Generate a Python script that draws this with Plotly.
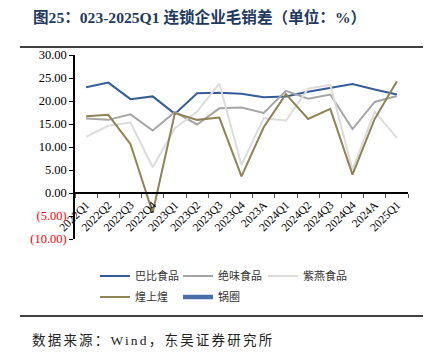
import plotly.graph_objects as go

categories = ["2022Q1", "2022Q2", "2022Q3", "2022Q4", "2023Q1", "2023Q2", "2023Q3", "2023Q4",
              "2023A", "2024Q1", "2024Q2", "2024Q3", "2024Q4", "2024A", "2025Q1"]
babi = [23.0, 24.0, 20.4, 21.0, 17.2, 21.7, 21.8, 21.6, 20.8, 21.0, 22.0, 22.9, 23.7, 22.5, 21.4]
juewei = [16.2, 15.9, 17.1, 13.6, 17.6, 14.9, 18.4, 18.6, 17.4, 22.2, 20.5, 21.4, 13.9, 19.8, 21.1]
ziyan = [12.2, 14.6, 15.3, 5.6, 14.1, 17.7, 23.8, 6.1, 16.3, 15.7, 22.7, 23.5, 5.1, 17.7, 12.0]
huangshanghuang = [16.7, 17.0, 10.6, -4.3, 17.4, 15.9, 16.4, 3.6, 14.3, 21.5, 16.1, 18.3, 4.0, 16.1, 24.3]
guoquan = [None] * 15
ytick_vals = [-10, -5, 0, 5, 10, 15, 20, 25, 30]
ytick_text = ['<span style="color:#ff0000">(10.00)</span>', '<span style="color:#ff0000">(5.00)</span>',
              "0.00", "5.00", "10.00", "15.00", "20.00", "25.00", "30.00"]

W, H = 438, 352
L, R, T, B = 75, 30, 55, 113
PW, PH = W - L - R, H - T - B


def px(x):
    return (x - L) / PW


def py(y):
    return (H - B - y) / PH


serif = "Liberation Serif, Noto Sans CJK SC"
cjk = "Noto Sans CJK SC"

fig = go.Figure()
# name, values, color, width, legend id, legend px position (x, y)
series = [
    ("巴比食品", babi, "#345d98", 2, "legend", (95, 276)),
    ("绝味食品", juewei, "#a6a6a6", 2, "legend2", (178, 276)),
    ("紫燕食品", ziyan, "#dcdcdc", 2, "legend3", (263, 276)),
    ("煌上煌", huangshanghuang, "#8f8453", 2, "legend4", (95, 297)),
    ("锅圈", guoquan, "#4a6fa8", 4.5, "legend5", (178, 297)),
]
legends = {}
for name, vals, color, w, lg, pos in series:
    fig.add_trace(go.Scatter(x=categories, y=vals, name=name, mode="lines",
                             line=dict(color=color, width=w), legend=lg, showlegend=True))
    legends[lg] = dict(orientation="h", x=px(pos[0]), y=py(pos[1]), xanchor="left", yanchor="middle",
                       font=dict(family=cjk, size=11, color="#333"),
                       bgcolor="rgba(0,0,0,0)", itemclick=False, itemdoubleclick=False)

ymin, ymax = -10, 30
zero_pos = (0 - ymin) / (ymax - ymin)

fig.update_layout(
    width=W, height=H,
    margin=dict(l=L, r=R, t=T, b=B),
    paper_bgcolor="white", plot_bgcolor="white",
    font=dict(family=serif, size=12, color="#000"),
    xaxis=dict(type="category", anchor="free", position=zero_pos, showline=True,
               linecolor="#000", linewidth=1.5, ticks="outside", ticklen=4, tickcolor="#555",
               tickangle=-45, tickfont=dict(family=serif, size=11.5), showgrid=False,
               zeroline=False, tickson="boundaries", range=[-0.5, 14.5]),
    yaxis=dict(range=[ymin, ymax], tickvals=ytick_vals, ticktext=ytick_text, showline=True,
               linecolor="#000", linewidth=1.5, ticks="outside", ticklen=4, tickcolor="#000",
               showgrid=False, zeroline=False, tickfont=dict(family=serif, size=12.5)),
    showlegend=True,
    **legends,
)

fig.add_annotation(text="<b>图25：023-2025Q1 连锁企业毛销差（单位：%）</b>", xref="paper", yref="paper",
                   x=px(31), y=py(17), xanchor="left", yanchor="middle", showarrow=False,
                   font=dict(family=serif, size=15.6, color="#1f3a60"))
fig.add_annotation(text='<span style="letter-spacing:2.2px">数据来源：Wind，东吴证券研究所</span>',
                   xref="paper", yref="paper",
                   x=px(30), y=py(340), xanchor="left", yanchor="middle", showarrow=False,
                   font=dict(family=serif, size=13.5, color="#222"))
fig.add_shape(type="line", xref="paper", yref="paper", x0=px(20), x1=px(423), y0=py(47), y1=py(47),
              line=dict(color="#000", width=1.5))
fig.add_shape(type="line", xref="paper", yref="paper", x0=px(20), x1=px(423), y0=py(316), y1=py(316),
              line=dict(color="#000", width=1.5))

fig.write_html("out.html")
